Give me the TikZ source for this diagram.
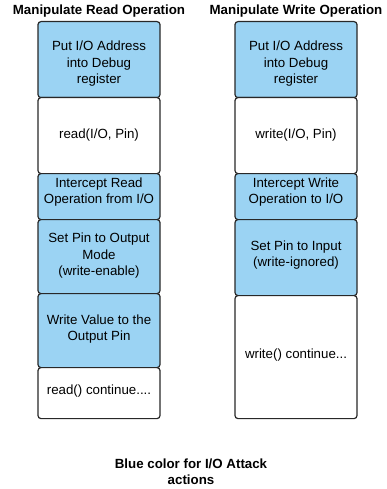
\documentclass[tikz,border=0pt]{standalone}
\usepackage{fontspec}
\setmainfont{Liberation Sans}
\definecolor{attack}{RGB}{155,211,243}
\definecolor{edge}{RGB}{40,40,40}
\begin{document}
\begin{tikzpicture}[x=1pt,y=-1pt,
  box/.style={draw=edge,line width=1.2pt,rounded corners=3pt,minimum width=122pt,inner sep=0pt,anchor=north},
  act/.style={box,fill=attack},
  plain/.style={box,fill=white},
  txt/.style={align=center,font=\fontsize{13.3}{16.5}\selectfont,inner sep=0pt},
  ttl/.style={align=center,font=\fontsize{13.3}{16.5}\selectfont\bfseries,inner sep=0pt}]
\useasboundingbox (0,0) rectangle (386,489);

% read column
\node[ttl] (rt) at (99,11) {Manipulate Read Operation};
\node[act,minimum height=76pt] (r1) at (99,21) {};
\node[plain,minimum height=76pt] (r2) at (99,97) {};
\node[act,minimum height=46pt] (r3) at (99,173) {};
\node[act,minimum height=74pt] (r4) at (99,219) {};
\node[act,minimum height=74pt] (r5) at (99,293) {};
\node[plain,minimum height=51pt] (r6) at (99,367) {};
\node[txt] (r1t) at (99,64) {Put I/O Address\\into Debug\\register};
\node[txt] (r2t) at (99,135) {read(I/O, Pin)};
\node[txt] (r3t) at (99,192) {Intercept Read\\Operation from I/O};
\node[txt] (r4t) at (99,256) {Set Pin to Output\\Mode\\(write-enable)};
\node[txt] (r5t) at (99,329) {Write Value to the\\Output Pin};
\node[txt] (r6t) at (99,391) {read() continue....};

% write column
\node[ttl] (wt) at (296,11) {Manipulate Write Operation};
\node[act,minimum height=76pt] (w1) at (296,21) {};
\node[plain,minimum height=76pt] (w2) at (296,97) {};
\node[act,minimum height=46pt] (w3) at (296,173) {};
\node[act,minimum height=76pt] (w4) at (296,219) {};
\node[plain,minimum height=123pt] (w5) at (296,295) {};
\node[txt] (w1t) at (296,64) {Put I/O Address\\into Debug\\register};
\node[txt] (w2t) at (296,135) {write(I/O, Pin)};
\node[txt] (w3t) at (296,192) {Intercept Write\\Operation to I/O};
\node[txt] (w4t) at (296,255) {Set Pin to Input\\(write-ignored)};
\node[txt] (w5t) at (296,355) {write() continue...};

% legend
\node[ttl] (leg) at (191,471.5) {Blue color for I/O Attack\\actions};
\end{tikzpicture}
\end{document}
